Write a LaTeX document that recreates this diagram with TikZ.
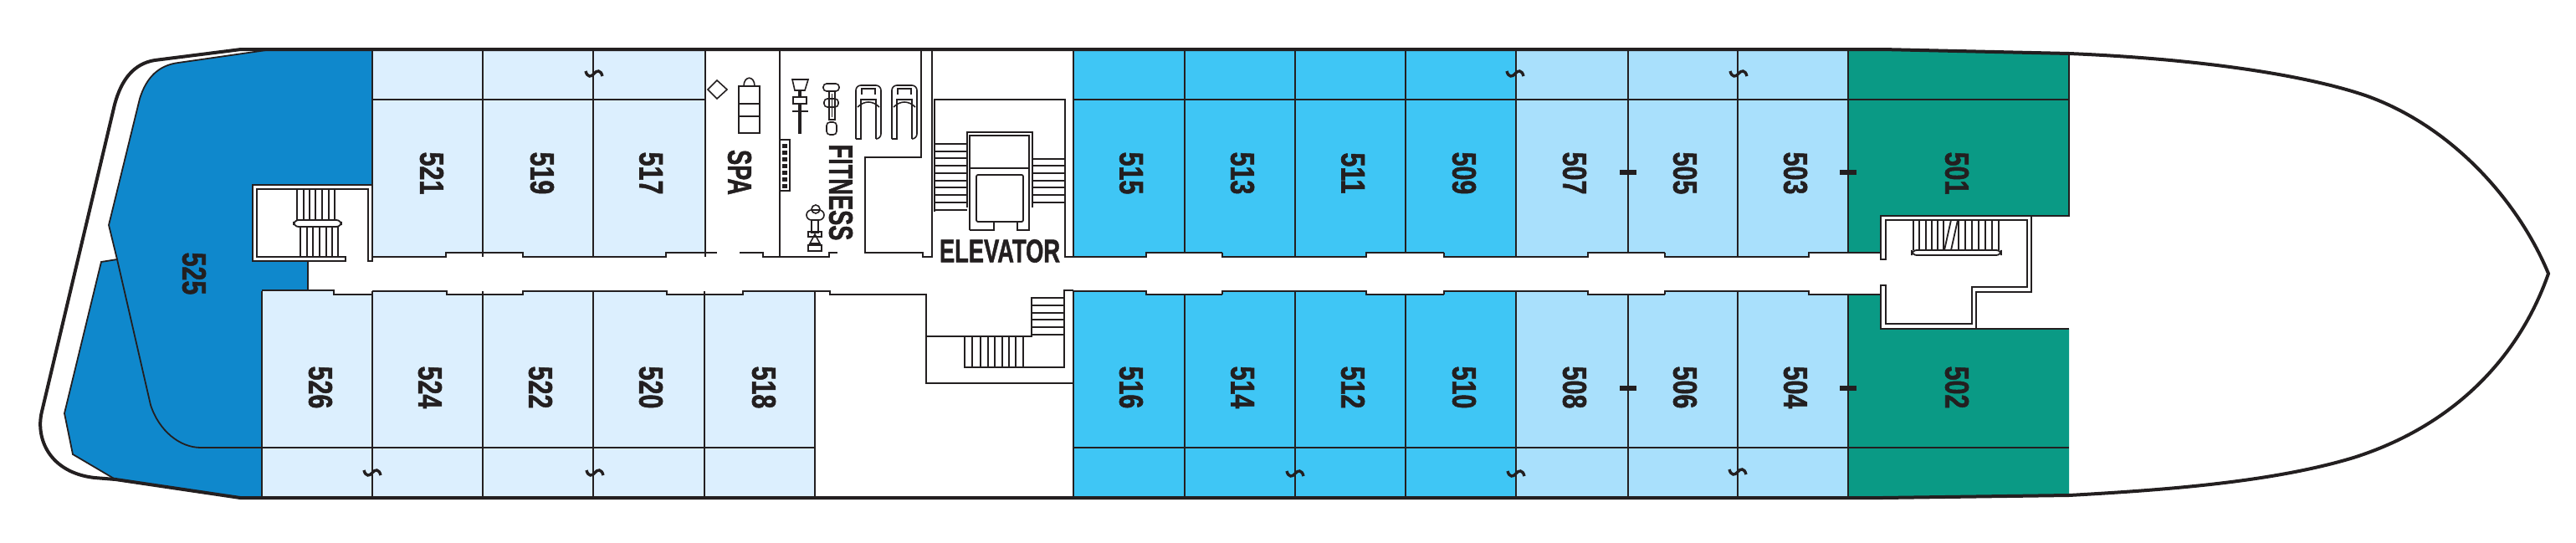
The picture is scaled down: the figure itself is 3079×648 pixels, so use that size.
\documentclass[tikz,border=0pt]{standalone}
\usepackage{fontspec}
\setmainfont{Liberation Sans}[BoldFeatures={FakeBold=1.6}]
\usepackage{tikz}
\usetikzlibrary{calc}
\definecolor{cabinPale}{HTML}{DCEFFE}
\definecolor{cabinSky}{HTML}{3FC6F5}
\definecolor{cabinLight}{HTML}{A9E0FC}
\definecolor{cabinTeal}{HTML}{0A9A85}
\definecolor{cabinDeep}{HTML}{0F88CC}
\definecolor{ink}{HTML}{231F20}

\begin{document}
\begin{tikzpicture}[x=0.5pt,y=-0.5pt,line join=miter]

\tikzstyle{hullLine} = [draw=ink,line width=2pt];
\tikzstyle{wallLine} = [draw=ink,line width=1.2pt];
\tikzstyle{thinLine} = [draw=ink,line width=0.9pt];
\tikzstyle{gymLine} = [draw=ink,line width=0.8pt];
\tikzstyle{cabinLabel} = [text=ink,inner sep=0pt,rotate=-90,xscale=0.76,font={\fontsize{20}{22}\selectfont\bfseries}];
\tikzstyle{wordLabel} = [text=ink,inner sep=0pt,rotate=-90,xscale=0.68,font={\fontsize{20}{22}\selectfont\bfseries}];
\tikzstyle{liftLabel} = [text=ink,inner sep=0pt,xscale=0.7,font={\fontsize{19.5}{22}\selectfont\bfseries}];
\tikzstyle{tickMark} = [fill=ink,draw=none];
\tikzstyle{breakMark} = [draw=ink,line width=1.7pt];

\useasboundingbox (0,0) rectangle (3079,648);

\fill[cabinDeep] (325,59) -- (213,75) .. controls (190,78) and (175,92) .. (167,118) -- (130,269) -- (140,310) -- (121,313) -- (77,494) -- (87,543) -- (138,573) -- (287,594) -- (313,594) -- (313,347) -- (368,347) -- (368,312) -- (302,312) -- (302,221) -- (445,221) -- (445,59) -- cycle;
\fill[cabinPale] (445,59) -- (843,59) -- (843,302) -- (796,302) -- (796,307) -- (625,307) -- (625,302) -- (533,302) -- (533,307) -- (445,307) -- cycle;
\fill[cabinPale] (313,347) -- (399,347) -- (399,352) -- (445,352) -- (445,348) -- (534,348) -- (534,352) -- (625,352) -- (625,348) -- (797,348) -- (797,352) -- (888,352) -- (888,348) -- (974,348) -- (974,594) -- (313,594) -- cycle;
\fill[cabinSky] (1283,59) rectangle (1812,307);
\fill[cabinSky] (1283,348) rectangle (1812,595);
\fill[cabinLight] (1812,59) rectangle (2209,307);
\fill[cabinLight] (1812,348) rectangle (2209,595);
\fill[cabinTeal] (2209,59) -- (2473,64) -- (2473,258) -- (2248,258) -- (2248,302) -- (2209,302) -- cycle;
\fill[cabinTeal] (2209,352) -- (2248,352) -- (2248,393) -- (2473,393) -- (2473,592) -- (2209,595) -- cycle;

% cabin walls
\foreach \x in {1283,1416,1548,1680,1812,1946,2077,2209} {
  \draw[thinLine] (\x,59) -- (\x,307);
  \draw[thinLine] (\x,348) -- (\x,595);
}
\foreach \x in {445,577,709,843} \draw[thinLine] (\x,59) -- (\x,307);
\foreach \x in {313,445,577,709,842,974} \draw[thinLine] (\x,348) -- (\x,595);
\draw[wallLine] (445,59) -- (445,312) -- (440,312) -- (440,226) -- (307,226) -- (307,307) -- (413,307) -- (413,312) -- (302,312) -- (302,221) -- (445,221);
\draw[thinLine] (445,119) -- (843,119);
\draw[thinLine] (1283,119) -- (2473,119);
\draw[thinLine] (240,535) -- (974,535);
\draw[thinLine] (1283,535) -- (2473,535);

% corridor
\draw[wallLine] (1283,307) -- (2162,307);
\draw[wallLine] (1283,348) -- (2162,348);
\foreach \a/\b in {1370/1461,1633/1726,1898/1990,2162/2248} {
  \fill[white] (\a,302) rectangle (\b,310);
  \fill[white] (\a,345) rectangle (\b,352);
  \draw[wallLine] (\a,307.6) -- (\a,302) -- (\b,302);
  \draw[wallLine] (\a,347.4) -- (\a,352) -- (\b,352);
}
\foreach \a in {1461,1726,1990} {
  \draw[wallLine] (\a,302) -- (\a,307.6);
  \draw[wallLine] (\a,352) -- (\a,347.4);
}
\draw[wallLine] (445,307) -- (533,307) -- (533,302) -- (625,302) -- (625,307) -- (796,307) -- (796,302) -- (857,302);
\draw[wallLine] (884,302) -- (912,302) -- (912,307) -- (991,307) -- (991,302) -- (1001,302);
\draw[wallLine] (1114,60) -- (1114,307) -- (1103,307) -- (1103,302) -- (1034,302) -- (1034,188) -- (1101,188) -- (1101,60);
\draw[thinLine] (932,59) -- (932,307);
\draw[thinLine] (368,312) -- (368,347) -- (313,347);
\draw[thinLine] (313,347) -- (399,347) -- (399,352) -- (445,352);
\draw[wallLine] (445,348) -- (534,348) -- (534,352) -- (625,352) -- (625,348) -- (797,348) -- (797,352) -- (888,352) -- (888,348) -- (992,348) -- (992,352) -- (1107,352) -- (1107,458) -- (1283,458);

% midship stairs
\draw[thinLine] (1107,402) -- (1233,402) -- (1233,356) -- (1272,356);
\draw[thinLine] (1283,347) -- (1272,347) -- (1272,439) -- (1153,439) -- (1153,402);
\foreach \x in {1162,1172,1181,1189,1198,1206,1214,1223} \draw[thinLine] (\x,402) -- (\x,439);
\foreach \y in {365,374,382,391,400} \draw[thinLine] (1233,\y) -- (1272,\y);

% elevator
\draw[wallLine] (1117,253) -- (1117,119) -- (1273,119) -- (1273,307) -- (1283,307);
\draw[thinLine] (1156,248) -- (1156,158) -- (1234,158) -- (1234,248);
\draw[thinLine] (1159,275) -- (1159,162) -- (1230,162) -- (1230,275) -- (1216,275) -- (1216,265);
\draw[thinLine] (1159,275) -- (1188,275) -- (1188,265);
\draw[thinLine] (1159,201) -- (1230,201);
\draw[thinLine,rounded corners=1] (1167,209) rectangle (1223,265);
\foreach \y in {172,181,189,198,207,216,224,233,242,251} \draw[thinLine] (1117,\y) -- (1156,\y);
\foreach \y in {190,198,207,216,224,233,242} \draw[thinLine] (1234,\y) -- (1273,\y);

% aft stairs
\foreach \x in {355,363,370,377,385,393,400} \draw[thinLine] (\x,226) -- (\x,263);
\foreach \x in {359,367,374,382,390,397,404} \draw[thinLine] (\x,271) -- (\x,307);
\draw[thinLine,fill=white,rounded corners=3] (351,263) rectangle (408,271);

% forward stairs
\draw[thinLine] (2248,302) -- (2248,258) -- (2473,258) -- (2473,64);
\draw[thinLine] (2473,393) -- (2248,393) -- (2248,352);
\draw[thinLine] (2428,258) -- (2428,349) -- (2362,349) -- (2362,393);
\draw[thinLine] (2248,302) -- (2248,310) -- (2254,310) -- (2254,263) -- (2423,263) -- (2423,343) -- (2357,343) -- (2357,387) -- (2254,387) -- (2254,341) -- (2248,341) -- (2248,352);
\foreach \x in {2287,2294,2302,2309,2316,2323,2341,2349,2357,2365,2373,2381,2389} \draw[thinLine] (\x,263) -- (\x,299);
\draw[thinLine] (2332,263) -- (2324,299);
\draw[thinLine] (2340,263) -- (2332,299);
\draw[thinLine,fill=white,rounded corners=3] (2285,299) rectangle (2392,305);

% spa and fitness
\draw[gymLine] (857,96) -- (869,107) -- (857,118) -- (846,107) -- cycle;
\draw[gymLine,line width=1pt] (883,103) rectangle (908,159);
\draw[gymLine] (883,124) -- (908,124);
\draw[gymLine] (883,139) -- (908,139);
\draw[gymLine] (889,103) .. controls (889,90) and (902,90) .. (902,103);
\draw[gymLine] (932,167) rectangle (944,228);
\foreach \y in {172,180,188,196,204,212,220} \fill[ink] (935,\y) rectangle (941,\y+5);
\foreach \x in {1023,1066} {
  \draw[gymLine,rounded corners=3] (\x,166) -- (\x,102) -- (\x+30,102) -- (\x+30,166) -- (\x+24,166);
  \draw[gymLine] (\x,166) -- (\x+6,166) -- (\x+6,119) -- (\x+24,119) -- (\x+24,166);
  \draw[gymLine] (\x+7,113) -- (\x+7,106) -- (\x+23,106) -- (\x+23,113);
  \draw[gymLine] (\x+2,128) .. controls (\x+10,120) and (\x+20,120) .. (\x+28,128);
}
\draw[gymLine,line width=2pt] (956,108) -- (956,160);
\draw[gymLine,fill=white] (948,116) rectangle (964,124);
\draw[gymLine] (947,133) -- (966,133);
\draw[gymLine] (947,95) -- (966,95) -- (962,108) -- (950,108) -- cycle;
\draw[gymLine,rounded corners=2] (984,100) -- (1003,100) -- (1003,109) -- (984,109) -- cycle;
\draw[gymLine] (991,109) rectangle (998,143);
\draw[gymLine,rounded corners=2] (985,118) rectangle (1002,128);
\draw[gymLine] (994.5,112) -- (994.5,140);
\draw[gymLine,rounded corners=2] (988,146) rectangle (1000,161);
\draw[gymLine,rounded corners=3] (964,263) -- (964,251) -- (985,251) -- (985,263) -- cycle;
\draw[gymLine] (975,250) circle (5);
\draw[gymLine] (970,263) rectangle (978,278);
\draw[gymLine] (966,277) rectangle (982,283);
\draw[gymLine] (974,280) -- (968,291) -- (980,291) -- cycle;
\draw[gymLine] (966,293) rectangle (982,300);

% hull
\draw[thinLine] (325,59) -- (213,75) .. controls (190,78) and (175,92) .. (167,118) -- (130,269) -- (140,310) -- (121,313) -- (77,494) -- (87,543) -- (138,573);
\draw[thinLine] (140,310) -- (180,484) .. controls (190,515) and (215,535) .. (240,535);
\draw[hullLine] (288,59) -- (2250,59) -- (2473,64) .. controls (2620,70) and (2750,88) .. (2827,114) .. controls (2930,150) and (3010,240) .. (3046,327) .. controls (3010,430) and (2930,510) .. (2813,547) .. controls (2720,575) and (2600,585) .. (2473,592) -- (2250,595) -- (287,595) -- (138,573) -- (113,571) .. controls (60,565) and (42,525) .. (50,492) -- (137,125) .. controls (145,95) and (160,76) .. (185,72) -- cycle;

% balcony marks
\foreach \x/\y in {710/88,1811/88,2078/88,445/565,711/565,1548/566,1812/566,2077/564}
  \draw[breakMark] (\x-10,\y-3) .. controls (\x-8,\y+5) and (\x-3,\y+4) .. (\x,\y) .. controls (\x+3,\y-4) and (\x+8,\y-5) .. (\x+10,\y+3);
\foreach \x/\y in {1946/206,2209/206,1946/464,2209/464}
  \fill[tickMark] (\x-10,\y-3) rectangle (\x+10,\y+3);

% labels
\foreach \num/\x in {521/516,519/648,517/778,515/1352,513/1485,511/1617,509/1750,507/1882,505/2014,503/2146,501/2339}
  \node[cabinLabel,name=cabin\num] at (\x,207) {\num};
\foreach \num/\x in {526/383,524/514,522/646,520/778,518/913,516/1352,514/1485,512/1617,510/1750,508/1882,506/2014,504/2146,502/2339}
  \node[cabinLabel,name=cabin\num] at (\x,463) {\num};
\node[cabinLabel,name=cabin525] at (232,327) {525};
\node[wordLabel,name=spaLabel] at (884,206) {SPA};
\node[wordLabel,name=fitnessLabel] at (1005,230) {FITNESS};
\node[liftLabel,name=elevatorLabel] at (1195,300) {ELEVATOR};
\end{tikzpicture}
\end{document}
